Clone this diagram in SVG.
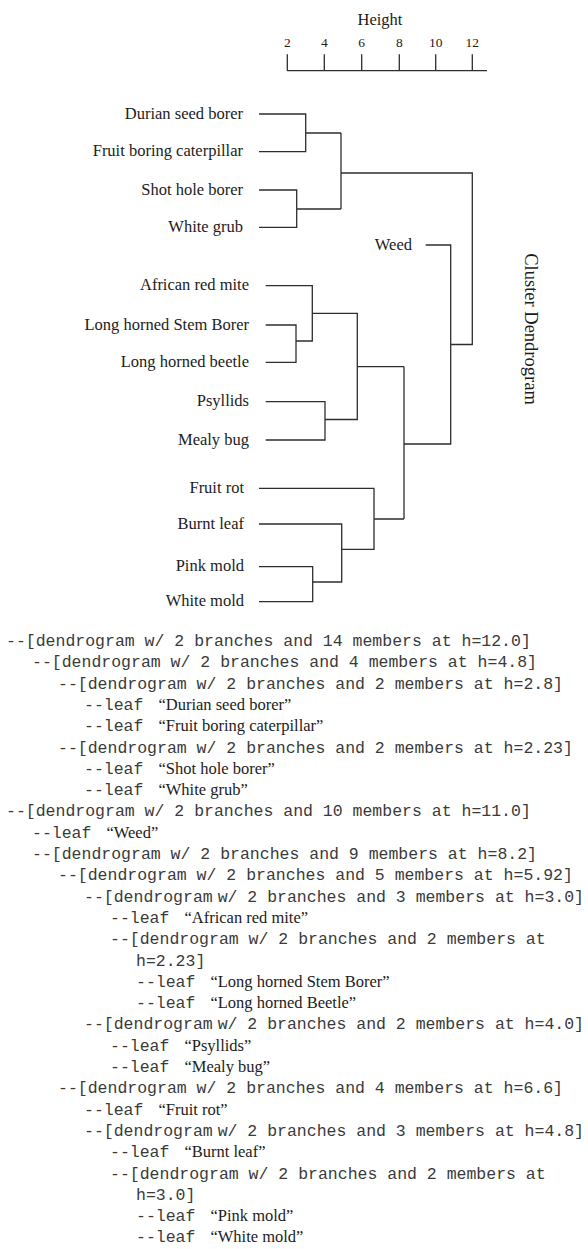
<svg xmlns="http://www.w3.org/2000/svg" width="588" height="1249" viewBox="0 0 588 1249">
<style>
.ln{fill:none;stroke:#2e2e2e;stroke-width:1.3}
.lab{font-family:"Liberation Serif","Times New Roman",serif;font-size:16.5px;fill:#1c1c1c}
.lbl{text-anchor:end}
.tk{font-family:"Liberation Serif","Times New Roman",serif;font-size:13.5px;fill:#1c1c1c;text-anchor:middle}
.m{font-family:"Liberation Mono","Courier New",monospace;font-size:16.5px;fill:#3a3a3a}
.s{font-family:"Liberation Serif","Times New Roman",serif;font-size:16.5px;fill:#1c1c1c}
</style>
<rect width="588" height="1249" fill="#ffffff"/>
<g id="axis">
<text class="lab" x="380" y="25" text-anchor="middle">Height</text>
<text class="tk" x="287.3" y="46.7">2</text>
<text class="tk" x="324.3" y="46.7">4</text>
<text class="tk" x="361.7" y="46.7">6</text>
<text class="tk" x="399.3" y="46.7">8</text>
<text class="tk" x="435.7" y="46.7">10</text>
<text class="tk" x="472.3" y="46.7">12</text>
<path class="ln" d="M287,70.7H487M287.3,54.3V70.7M324.3,54.3V70.7M361.7,54.3V70.7M399.3,54.3V70.7M435.7,54.3V70.7M472.3,54.3V70.7"/>
</g>
<g id="title">
<text class="lab" transform="translate(525,329) rotate(90)" text-anchor="middle" style="font-size:18.5px">Cluster Dendrogram</text>
</g>
<g id="leaf-durian"><text class="lab lbl" x="243" y="118.5">Durian seed borer</text></g>
<g id="leaf-fruit-boring"><text class="lab lbl" x="243" y="156.2">Fruit boring caterpillar</text></g>
<g id="leaf-shot-hole"><text class="lab lbl" x="243" y="194.5">Shot hole borer</text></g>
<g id="leaf-white-grub"><text class="lab lbl" x="243" y="231.8">White grub</text></g>
<g id="leaf-weed"><text class="lab lbl" x="412" y="249.5">Weed</text></g>
<g id="leaf-african"><text class="lab lbl" x="249" y="290.2">African red mite</text></g>
<g id="leaf-lh-stem"><text class="lab lbl" x="249" y="329.5">Long horned Stem Borer</text></g>
<g id="leaf-lh-beetle"><text class="lab lbl" x="249" y="366.8">Long horned beetle</text></g>
<g id="leaf-psyllids"><text class="lab lbl" x="249" y="406.2">Psyllids</text></g>
<g id="leaf-mealy"><text class="lab lbl" x="249" y="444.5">Mealy bug</text></g>
<g id="leaf-fruit-rot"><text class="lab lbl" x="244" y="492.8">Fruit rot</text></g>
<g id="leaf-burnt"><text class="lab lbl" x="244" y="528.5">Burnt leaf</text></g>
<g id="leaf-pink"><text class="lab lbl" x="244" y="571.2">Pink mold</text></g>
<g id="leaf-white-mold"><text class="lab lbl" x="244" y="606.2">White mold</text></g>
<g id="connectors">
<path class="ln" d="M259,114H305.7V151.7H259M305.7,133H341"/>
<path class="ln" d="M259,190H296.7V227.3H259M296.7,209H341"/>
<path class="ln" d="M341,133V209M341,173H472.3V344.5H450.7"/>
<path class="ln" d="M425.7,245H450.7V444H404"/>
<path class="ln" d="M404,366.7V519M357.3,366.7H404"/>
<path class="ln" d="M312.3,313.3H357.3V419.5H325"/>
<path class="ln" d="M265.7,285.7H312.3V341H296"/>
<path class="ln" d="M265.7,325H296V362.3H265.7"/>
<path class="ln" d="M265.7,401.7H325V440H265.7"/>
<path class="ln" d="M404,519H374M259,488.3H374V549.3H341.7"/>
<path class="ln" d="M259,524H341.7V582H312.7"/>
<path class="ln" d="M259,566.7H312.7V601.7H259"/>
</g>
<g id="text-listing">
<text class="m" x="6" y="646">--[dendrogram w/ 2 branches and 14 members at h=12.0]</text>
<text class="m" x="32" y="667.3">--[dendrogram w/ 2 branches and 4 members at h=4.8]</text>
<text class="m" x="58" y="688.6">--[dendrogram w/ 2 branches and 2 members at h=2.8]</text>
<text class="m" x="84" y="709.9">--leaf<tspan class="s" dx="15">“Durian seed borer”</tspan></text>
<text class="m" x="84" y="731.2">--leaf<tspan class="s" dx="15">“Fruit boring caterpillar”</tspan></text>
<text class="m" x="58" y="752.5">--[dendrogram w/ 2 branches and 2 members at h=2.23]</text>
<text class="m" x="84" y="773.8">--leaf<tspan class="s" dx="15">“Shot hole borer”</tspan></text>
<text class="m" x="84" y="795.1">--leaf<tspan class="s" dx="15">“White grub”</tspan></text>
<text class="m" x="6" y="816.4">--[dendrogram w/ 2 branches and 10 members at h=11.0]</text>
<text class="m" x="32" y="837.7">--leaf<tspan class="s" dx="15">“Weed”</tspan></text>
<text class="m" x="32" y="859">--[dendrogram w/ 2 branches and 9 members at h=8.2]</text>
<text class="m" x="58" y="880.3">--[dendrogram w/ 2 branches and 5 members at h=5.92]</text>
<text class="m" x="84" y="901.6">--[dendrogram<tspan dx="-5"> w/ 2 branches and 3 members at h=3.0]</tspan></text>
<text class="m" x="110" y="922.9">--leaf<tspan class="s" dx="15">“African red mite”</tspan></text>
<text class="m" x="110" y="944.2">--[dendrogram w/ 2 branches and 2 members at</text>
<text class="m" x="136" y="965.5">h=2.23]</text>
<text class="m" x="136" y="986.8">--leaf<tspan class="s" dx="15">“Long horned Stem Borer”</tspan></text>
<text class="m" x="136" y="1008.1">--leaf<tspan class="s" dx="15">“Long horned Beetle”</tspan></text>
<text class="m" x="84" y="1029.4">--[dendrogram<tspan dx="-5"> w/ 2 branches and 2 members at h=4.0]</tspan></text>
<text class="m" x="110" y="1050.7">--leaf<tspan class="s" dx="15">“Psyllids”</tspan></text>
<text class="m" x="110" y="1072">--leaf<tspan class="s" dx="15">“Mealy bug”</tspan></text>
<text class="m" x="58" y="1093.3">--[dendrogram w/ 2 branches and 4 members at h=6.6]</text>
<text class="m" x="84" y="1114.6">--leaf<tspan class="s" dx="15">“Fruit rot”</tspan></text>
<text class="m" x="84" y="1135.9">--[dendrogram<tspan dx="-5"> w/ 2 branches and 3 members at h=4.8]</tspan></text>
<text class="m" x="110" y="1157.2">--leaf<tspan class="s" dx="15">“Burnt leaf”</tspan></text>
<text class="m" x="110" y="1178.5">--[dendrogram w/ 2 branches and 2 members at</text>
<text class="m" x="136" y="1199.8">h=3.0]</text>
<text class="m" x="136" y="1221.1">--leaf<tspan class="s" dx="15">“Pink mold”</tspan></text>
<text class="m" x="136" y="1242.4">--leaf<tspan class="s" dx="15">“White mold”</tspan></text>
</g>
</svg>
